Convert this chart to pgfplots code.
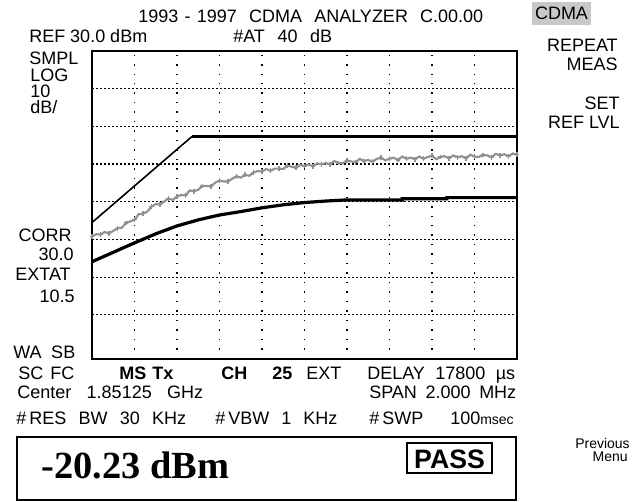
\documentclass[border=0pt]{standalone}
\usepackage{fontspec}
\setmainfont{Liberation Sans}
\newfontfamily\timesf{Liberation Serif}
\usepackage{pgfplots}
\pgfplotsset{compat=1.18}
\newdimen\pxu \pxu=0.75pt
\newcommand\scr{\fontsize{13.5pt}{15pt}\selectfont}
\newcommand\fw[2]{\makebox[#1\pxu][s]{#2}}
\definecolor{trgray}{RGB}{145,145,145}
\definecolor{boxgray}{RGB}{200,200,200}
\pgfplotstableread{
x y
0.0 -19.2
0.1 -18.6
0.2 -18.7
0.3 -18.0
0.4 -18.4
0.5 -17.7
0.6 -17.0
0.7 -16.9
0.8 -15.6
0.9 -15.2
1.0 -14.8
1.1 -13.3
1.2 -13.2
1.3 -12.6
1.4 -11.3
1.5 -10.6
1.6 -10.7
1.7 -9.9
1.8 -9.1
1.9 -9.5
2.0 -8.6
2.1 -8.2
2.2 -8.3
2.3 -7.0
2.4 -7.2
2.5 -6.8
2.6 -5.8
2.7 -5.8
2.8 -5.9
2.9 -4.9
3.0 -4.4
3.1 -4.6
3.2 -4.6
3.3 -3.9
3.4 -3.2
3.5 -3.6
3.6 -2.8
3.7 -3.1
3.8 -2.3
3.9 -1.8
4.0 -2.0
4.1 -1.3
4.2 -1.8
4.3 -1.2
4.4 -1.2
4.5 -1.3
4.6 -0.4
4.7 -0.7
4.8 -1.0
4.9 -0.2
5.0 -0.5
5.1 -0.1
5.2 -0.6
5.3 0.2
5.4 -0.1
5.5 0.3
5.6 -0.1
5.7 0.8
5.8 0.3
5.9 0.2
6.0 1.0
6.1 0.7
6.2 0.5
6.3 1.4
6.4 0.8
6.5 1.1
6.6 0.6
6.7 1.4
6.8 1.7
6.9 1.0
7.0 1.4
7.1 1.7
7.2 1.1
7.3 2.0
7.4 1.4
7.5 1.7
7.6 1.3
7.7 2.0
7.8 1.4
7.9 1.9
8.0 2.2
8.1 1.3
8.2 1.9
8.3 2.1
8.4 1.5
8.5 2.3
8.6 1.8
8.7 2.1
8.8 1.5
8.9 2.5
9.0 2.0
9.1 1.9
9.2 2.4
9.3 2.3
9.4 1.8
9.5 2.7
9.6 2.3
9.7 2.6
9.8 2.1
9.9 2.8
10.0 2.5
}\graytrace
\pgfplotstableread{
x y
0.0 -25.9
0.5 -23.4
1.0 -20.9
1.5 -18.5
2.0 -16.4
2.5 -14.8
3.0 -13.5
3.5 -12.6
4.0 -11.6
4.5 -10.8
5.0 -10.2
5.5 -9.8
6.0 -9.5
7.3 -9.5
7.3 -9.2
8.35 -9.2
8.35 -8.9
10.0 -8.9
}\lowtrace
\begin{document}
\begin{tikzpicture}
\useasboundingbox (0pt,0pt) rectangle (481.5pt,-376.5pt);
\begin{axis}[
  at={(69pt,-269.25pt)}, anchor=south west,
  width=318.75pt, height=231pt, scale only axis,
  xmin=0, xmax=10, ymin=-51.7, ymax=30,
  xtick={1,...,9}, ytick={-40,-30,...,20},
  xticklabels={}, yticklabels={}, major tick length=0pt,
  grid=major,
  x grid style={black, line width=1.1pt, dash pattern=on 1.1pt off 6pt},
  y grid style={black, line width=0.9pt, dash pattern=on 1.6pt off 1.4pt},
  axis line style={line width=2pt, black},
]
\addplot[black, line width=1.2pt] coordinates {(0,-15.5) (2.35,7.3)};
\addplot[black, line width=2.2pt] coordinates {(2.35,7.3) (10,7.3)};
\addplot[trgray, line width=1.6pt, mark=+, mark repeat=2, mark size=1.8pt,
  mark options={line width=0.9pt}] table[x=x,y=y] {\graytrace};
\addplot[black, line width=2.4pt] table[x=x,y=y] {\lowtrace};
\end{axis}
\begin{scope}[x=0.75pt, y=-0.75pt]
\tikzset{every node/.style={inner sep=0pt, font=\scr}}
\node[anchor=base west] at (138,23) {\fw{345}{1993\hspace{0.35em}-\hspace{0.35em}1997 CDMA ANALYZER C.00.00}};
\node[anchor=base west] at (29,43) {\fw{118}{REF 30.0 dBm}};
\node[anchor=base west] at (233,43) {\fw{99}{\#AT 40 dB}};
\fill[boxgray] (532,2) rectangle (591,25);
\node[anchor=base] at (561.5,20) {CDMA};
\node[anchor=base east] at (618,52) {REPEAT};
\node[anchor=base east] at (618,71) {MEAS};
\node[anchor=base east] at (620,110) {SET};
\node[anchor=base east] at (620,129) {REF LVL};
\node[anchor=base west] at (29,64.5) {SMPL};
\node[anchor=base west] at (30,82) {LOG};
\node[anchor=base west] at (30,98) {10};
\node[anchor=base west] at (30,114) {dB/};
\node[anchor=base east] at (72,242) {CORR};
\node[anchor=base east] at (74,261) {30.0};
\node[anchor=base east] at (71,281) {EXTAT};
\node[anchor=base east] at (75,302) {10.5};
\node[anchor=base west] at (13,358) {\fw{62}{WA SB}};
\node[anchor=base west] at (18,379) {\fw{56}{SC FC}};
\node[anchor=base west] at (119,379) {\fw{54}{\bfseries MS Tx}};
\node[anchor=base west] at (221,379) {\bfseries CH};
\node[anchor=base west] at (272,379) {\bfseries 25};
\node[anchor=base west] at (306,379) {EXT};
\node[anchor=base west] at (367,379) {\fw{148}{DELAY 17800 µs}};
\node[anchor=base west] at (17,398.5) {\fw{186}{Center 1.85125 GHz}};
\node[anchor=base west] at (369,398.5) {\fw{147}{SPAN 2.000 MHz}};
\node[anchor=base west] at (16,424) {\fw{170}{\#\,RES BW 30 KHz}};
\node[anchor=base west] at (215,424) {\fw{122}{\#\,VBW 1 KHz}};
\node[anchor=base west] at (369,424) {\#\,SWP};
\node[anchor=base east] at (514,424) {100{\fontsize{10.5pt}{11pt}\selectfont msec}};
\draw[line width=1.4pt] (17,437) rectangle (516,500);
\node[anchor=base west, font=\timesf\bfseries\fontsize{28.8pt}{30pt}\selectfont] at (41,478) {-20.23 dBm};
\draw[line width=1pt] (407,443) rectangle (492,473);
\node[anchor=base, font=\bfseries\fontsize{20pt}{22pt}\selectfont] at (449.5,468) {PASS};
\node[anchor=base east, font=\fontsize{10.5pt}{12pt}\selectfont] at (630,448.5) {Previous};
\node[anchor=base east, font=\fontsize{10.5pt}{12pt}\selectfont] at (628,461.5) {Menu};
\end{scope}
\end{tikzpicture}
\end{document}
